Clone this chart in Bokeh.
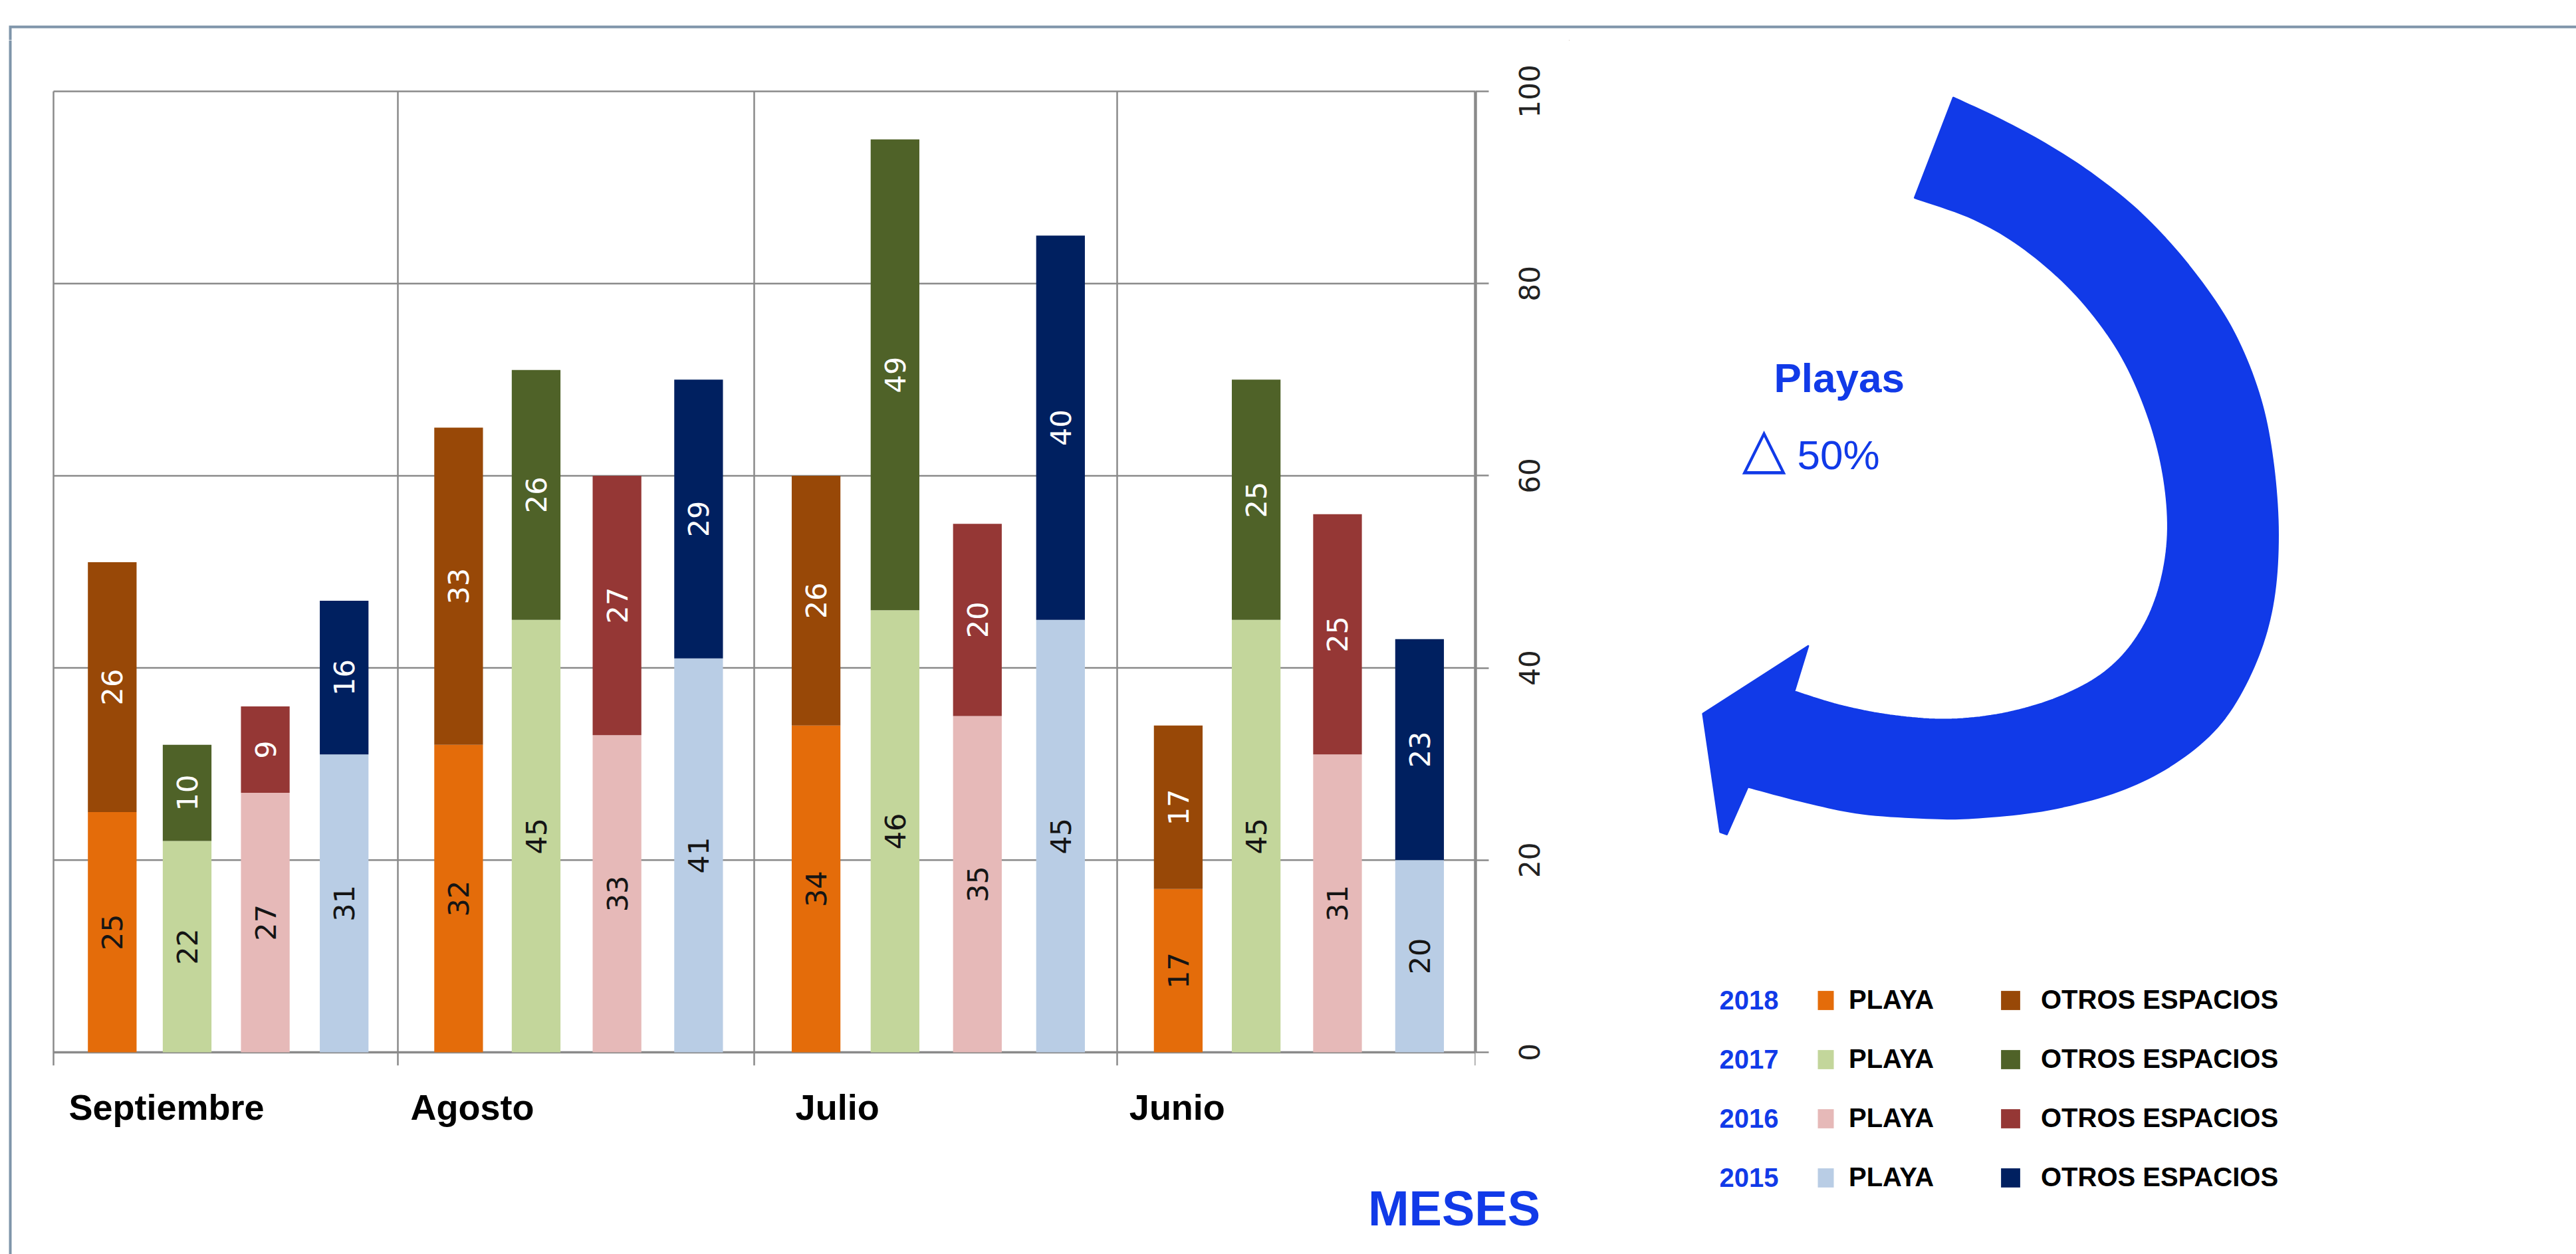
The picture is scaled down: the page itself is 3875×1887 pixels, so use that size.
import math
import numpy as np
from bokeh.plotting import figure
from bokeh.layouts import row, column
from bokeh.models import (ColumnDataSource, FixedTicker, Legend, LegendItem, LinearAxis,
                          Range1d)
from bokeh.core.properties import value
from bokeh.embed import file_html
from bokeh.resources import INLINE

# ------------------------------------------------------------------ data
months = ["Septiembre", "Agosto", "Julio", "Junio"]
years = ["2018", "2017", "2016", "2015"]
playa_2018 = [25, 32, 34, 17]
otros_2018 = [26, 33, 26, 17]
playa_2017 = [22, 45, 46, 45]
otros_2017 = [10, 26, 49, 25]
playa_2016 = [27, 33, 35, 31]
otros_2016 = [9, 27, 20, 25]
playa_2015 = [31, 41, 45, 20]
otros_2015 = [16, 29, 40, 23]
y_ticks = [0, 20, 40, 60, 80, 100]
series_names = ["PLAYA", "OTROS ESPACIOS"]
note_title = "Playas"
note_symbol = "△"
note_change = "50%"
x_title = "MESES"

# ------------------------------------------------------------------ styles
playa_colors = ["#E46C0A", "#C3D69B", "#E6B9B8", "#B9CDE5"]
otros_colors = ["#984807", "#4F6228", "#953735", "#002060"]
BLUE = "#113AE8"
GRID = "#8a8a8a"
BORDER = "#7f95aa"
FONT = "Liberation Sans"

# page layout (pixels)
PAGE_W, PAGE_H = 3875, 1887
TOP_H = 60          # strip holding the top border line
LEFT_W = 30         # strip holding the left border line
SPLIT_X = 2360      # main chart | side panel
FL, FR, FT, FB = 80, 2219, 137, 1583   # chart area (value 0..100, 4 month groups)
TICK = 20           # tick length below / right of the chart
NX = len(months)
XS = (FR - FL) / NX
YS = (FB - FT) / 100.0
Y_LOW = -TICK / YS  # frame bottom, just under the zero line

GROUP_EDGES_PX = [80, 598, 1134, 1680, 2219]
GROUP_EDGES = [(e - FL) / XS for e in GROUP_EDGES_PX]
BAR_FRAC = [0.1705, 0.388, 0.615, 0.844]
BAR_W = 0.137
MONTH_LABEL_X = [0.318, 1.178, 2.205, 3.161]
TITLE_X = (2187 - FL) / XS
TICK_FONT_PX = 42
DIGIT_ADV = 0.636 * TICK_FONT_PX


def deco_fig(x0, x1, y0, y1):
    f = figure(width=x1 - x0, height=y1 - y0,
               x_range=Range1d(x0, x1), y_range=Range1d(y1, y0),
               output_backend="svg", toolbar_location=None, tools="", title=None,
               x_axis_location=None, y_axis_location=None,
               min_border_left=0, min_border_right=0, min_border_top=0, min_border_bottom=0)
    f.outline_line_color = None
    f.background_fill_color = "white"
    f.border_fill_color = "white"
    f.grid.visible = False
    return f


# ------------------------------------------------------------------ main chart
main = figure(width=SPLIT_X - LEFT_W, height=PAGE_H - TOP_H,
              x_range=Range1d((LEFT_W - FL) / XS, NX),
              y_range=Range1d(Y_LOW, (FB - TOP_H) / YS),
              output_backend="svg", toolbar_location=None, tools="", title=None,
              x_axis_location="below", y_axis_location="right",
              min_border_left=0, min_border_top=0,
              min_border_right=SPLIT_X - FR, min_border_bottom=PAGE_H - (FB + TICK))
main.background_fill_color = "white"
main.border_fill_color = "white"
main.outline_line_color = None
main.grid.visible = False

# grid lines (bounded to the chart area; vertical ones extend as boundary ticks)
ng = len(GROUP_EDGES)
main.segment(x0=GROUP_EDGES, y0=[Y_LOW] * ng, x1=GROUP_EDGES, y1=[100] * ng,
             line_color=GRID, line_width=2.5)
main.segment(x0=[0] * (len(y_ticks) - 1), y0=y_ticks[1:], x1=[NX] * (len(y_ticks) - 1),
             y1=y_ticks[1:], line_color=GRID, line_width=2.5)

# bottom axis: month names
xa = main.xaxis[0]
xa.ticker = FixedTicker(ticks=MONTH_LABEL_X)
xa.major_label_overrides = {x: m for x, m in zip(MONTH_LABEL_X, months)}
xa.major_tick_out = 0
xa.major_tick_in = 0
xa.major_tick_line_color = None
xa.minor_tick_line_color = None
xa.axis_line_color = None
xa.major_label_standoff = 32
xa.major_label_text_font = FONT
xa.major_label_text_font_style = "bold"
xa.major_label_text_font_size = "54px"
xa.major_label_text_color = "black"

# second bottom axis: the axis title "MESES", right-aligned under the chart
xt = LinearAxis(ticker=FixedTicker(ticks=[TITLE_X]), major_label_overrides={TITLE_X: x_title},
                axis_line_color=None, major_tick_line_color=None, major_tick_out=0,
                major_tick_in=0, minor_tick_line_color=None, major_label_standoff=78,
                major_label_text_font=FONT, major_label_text_font_style="bold",
                major_label_text_font_size="74px", major_label_text_color=BLUE)
main.add_layout(xt, "below")

# right axis: line and ticks
ya = main.yaxis[0]
ya.bounds = (0, 100)
ya.ticker = FixedTicker(ticks=y_ticks)
ya.major_tick_out = TICK
ya.major_tick_in = 0
ya.minor_tick_line_color = None
ya.major_tick_line_color = GRID
ya.major_tick_line_width = 2.5
ya.axis_line_color = GRID
ya.axis_line_width = 4.5
ya.major_label_standoff = 0
ya.major_label_text_color = None
ya.major_label_text_font_size = "0px"

# right axis labels, rotated to read upwards and centred on their ticks
label_ticks = [t - len(str(t)) * DIGIT_ADV / 2 / YS for t in y_ticks]
yl = LinearAxis(ticker=FixedTicker(ticks=label_ticks),
                major_label_overrides={lt: str(t) for lt, t in zip(label_ticks, y_ticks)},
                axis_line_color=None, major_tick_line_color=None, major_tick_out=0,
                major_tick_in=0, minor_tick_line_color=None,
                major_label_orientation=math.pi / 2, major_label_standoff=61,
                major_label_text_font="DejaVu Sans",
                major_label_text_font_size=f"{TICK_FONT_PX}px",
                major_label_text_color="#222222")
main.add_layout(yl, "right")

# zero line
main.segment(x0=[0], y0=[0], x1=[NX], y1=[0], line_color=GRID, line_width=3.5)

# stacked bars
playa_all = [playa_2018, playa_2017, playa_2016, playa_2015]
otros_all = [otros_2018, otros_2017, otros_2016, otros_2015]
for k in range(len(years)):
    pv, ov = playa_all[k], otros_all[k]
    xs = [GROUP_EDGES[i] + BAR_FRAC[k] * (GROUP_EDGES[i + 1] - GROUP_EDGES[i]) for i in range(NX)]
    src = ColumnDataSource(dict(
        x=xs,
        playa=pv,
        total=[a + b for a, b in zip(pv, ov)],
        pmid=[a / 2 for a in pv],
        omid=[a + b / 2 for a, b in zip(pv, ov)],
        plab=[str(a) for a in pv],
        olab=[str(b) for b in ov],
    ))
    main.vbar(x="x", width=BAR_W, bottom=0, top="playa", source=src,
              fill_color=playa_colors[k], line_color=None)
    main.vbar(x="x", width=BAR_W, bottom="playa", top="total", source=src,
              fill_color=otros_colors[k], line_color=None)
    main.text(x="x", y="pmid", text="plab", source=src, angle=math.pi / 2,
              text_align="center", text_baseline="middle",
              text_font=value("DejaVu Sans"), text_font_size="43px", text_color="#151515")
    main.text(x="x", y="omid", text="olab", source=src, angle=math.pi / 2,
              text_align="center", text_baseline="middle",
              text_font=value("DejaVu Sans"), text_font_size="43px", text_color="white")

# ------------------------------------------------------------------ border strips
top = deco_fig(0, PAGE_W, 0, TOP_H)
top.line(x=[15, 15, PAGE_W], y=[TOP_H, 40, 40], line_color=BORDER, line_width=4,
         line_join="miter")

left = deco_fig(0, LEFT_W, TOP_H, PAGE_H)
left.line(x=[15, 15], y=[TOP_H, PAGE_H], line_color=BORDER, line_width=4)

# ------------------------------------------------------------------ side panel
side = deco_fig(SPLIT_X, PAGE_W, TOP_H, PAGE_H)


def smooth(points, n=10):
    pts = np.asarray(points, dtype=float)
    P = np.vstack([pts[0], pts, pts[-1]])
    out = []
    for i in range(1, len(P) - 2):
        p0, p1, p2, p3 = P[i - 1], P[i], P[i + 1], P[i + 2]
        for t in np.linspace(0, 1, n, endpoint=False):
            t2, t3 = t * t, t * t * t
            out.append(0.5 * (2 * p1 + (-p0 + p2) * t + (2 * p0 - 5 * p1 + 4 * p2 - p3) * t2
                              + (-p0 + 3 * p1 - 3 * p2 + p3) * t3))
    out.append(pts[-1])
    return [tuple(p) for p in out]


arrow_outer = [
    (2937.6, 145.9), (3011.2, 180.4), (3081.4, 218.6), (3151.5, 264.5), (3221.7, 321.9),
    (3291.8, 398.5), (3355.0, 490.3), (3397.0, 589.8), (3418.1, 689.3), (3426.5, 804.1),
    (3418.1, 911.2), (3390.0, 1003.0), (3340.9, 1087.2), (3270.8, 1148.0), (3186.6, 1190.0),
    (3081.4, 1218.0), (2976.1, 1230.0), (2906.0, 1231.0), (2800.8, 1224.0), (2716.6, 1207.0),
    (2628.9, 1184.0),
]
arrow_head = [(2597.3, 1255.6), (2586.8, 1251.7), (2560.8, 1073.4), (2720.1, 970.9)]
arrow_inner = [
    (2699.0, 1039.8), (2765.7, 1060.4), (2842.8, 1075.7), (2927.0, 1081.9), (3011.2, 1073.4),
    (3095.4, 1049.0), (3165.5, 1010.7), (3214.7, 957.1), (3246.2, 888.2), (3260.2, 804.1),
    (3253.2, 712.2), (3228.7, 620.4), (3186.6, 528.6), (3123.4, 444.4), (3046.3, 375.5),
    (2969.1, 329.6), (2879.3, 297.4),
]
arrow = smooth(arrow_outer) + arrow_head + smooth(arrow_inner)
side.patch(x=[a for a, b in arrow], y=[b for a, b in arrow],
           fill_color=BLUE, line_color=BLUE, line_width=2)

side.text(x=[2668], y=[568], text=[note_title], text_font=value(FONT), text_font_style="bold",
          text_font_size="62px", text_color=BLUE, text_baseline="middle", text_align="left")
side.text(x=[2620], y=[672], text=[note_symbol], text_font=value("DejaVu Sans"),
          text_font_size="86px", text_color=BLUE, text_baseline="middle", text_align="left")
side.text(x=[2703], y=[684], text=[note_change], text_font=value(FONT),
          text_font_size="62px", text_color=BLUE, text_baseline="middle", text_align="left")

# legend: proxy renderers (off-screen) carrying the series colours
ROW0, PITCH = 1504.5, 89
row_y = [ROW0 + PITCH * k for k in range(len(years))]
side.text(x=[2586] * len(years), y=row_y, text=years, text_font=value(FONT),
          text_font_style="bold", text_font_size="40px", text_color=BLUE,
          text_baseline="middle", text_align="left")

proxy_p = [side.vbar(x=[0], bottom=[0], top=[1], width=1, fill_color=c, line_color=None)
           for c in playa_colors]
proxy_o = [side.vbar(x=[0], bottom=[0], top=[1], width=1, fill_color=c, line_color=None)
           for c in otros_colors]
legend_bottom = row_y[-1] + 22.5
common = dict(orientation="vertical", padding=0, margin=0, spacing=44,
              border_line_color=None, background_fill_alpha=0,
              label_text_font=FONT, label_text_font_style="bold",
              label_text_font_size="40px", label_text_color="black",
              glyph_height=36)
leg1 = Legend(items=[LegendItem(label=value(series_names[0]), renderers=[r]) for r in proxy_p],
              location=(2731 - SPLIT_X, PAGE_H - legend_bottom), glyph_width=30,
              label_standoff=20, **common)
leg2 = Legend(items=[LegendItem(label=value(series_names[1]), renderers=[r]) for r in proxy_o],
              location=(3006 - SPLIT_X, PAGE_H - legend_bottom), glyph_width=36,
              label_standoff=28, **common)
side.add_layout(leg1)
side.add_layout(leg2)

layout = column(top, row(left, column(main), side))
open("out.html", "w").write(file_html(layout, INLINE))
